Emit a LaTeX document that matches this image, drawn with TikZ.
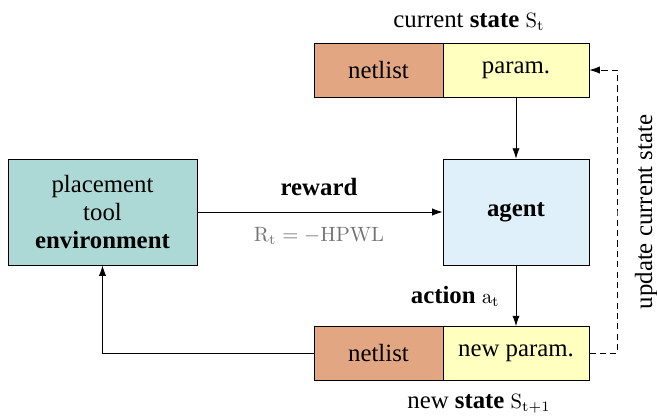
\documentclass[tikz,border=0pt]{standalone}
\usepackage[no-math]{fontspec}
\setmainfont{LiberationSerif}[Extension=.ttf, UprightFont=*-Regular, BoldFont=*-Bold, ItalicFont=*-Italic, BoldItalicFont=*-BoldItalic]
\usetikzlibrary{arrows.meta}

\definecolor{netcol}{RGB}{227,166,130}
\definecolor{parcol}{RGB}{255,255,192}
\definecolor{agentcol}{RGB}{224,240,250}
\definecolor{envcol}{RGB}{172,216,214}

\newcommand{\mth}[1]{{\fontsize{10}{12}\selectfont$\mathrm{#1}$}}

\tikzset{
  blk/.style={draw, inner sep=0pt, align=center},
  netbox/.style={blk, fill=netcol, minimum width=2.193cm, minimum height=0.918cm},
  parbox/.style={blk, fill=parcol, minimum width=2.482cm, minimum height=0.918cm},
  arr/.style={-{Latex[length=5pt,width=3.5pt]}},
}

\begin{document}
\begin{tikzpicture}[x=0.017cm, y=-0.017cm, font=\fontsize{12}{13.5}\selectfont]
  \useasboundingbox (0,0) rectangle (657,417);

  % current state
  \node[netbox] (tnet) at (378.5,70) {netlist};
  \node[parbox] (tpar) at (516,70) {param.};
  \node[anchor=base] (tlab) at (469,27) {current \textbf{state} \mth{S_t}};

  % agent and environment
  \node[blk, fill=agentcol, minimum width=2.482cm, minimum height=1.802cm] (agent) at (516,212) {\textbf{agent}};
  \node[blk, fill=envcol, minimum width=3.213cm, minimum height=1.802cm] (env) at (102.5,212) {placement\\tool\\\textbf{environment}};

  % new state
  \node[netbox] (bnet) at (378.5,353.5) {netlist};
  \node[parbox] (bpar) at (516,353.5) {new param.};
  \node[anchor=base] (blab) at (479,408) {new \textbf{state} \mth{S_{t+1}}};

  \draw[arr] (tpar) -- (agent);
  \draw[arr] (env) -- (agent);
  \node[anchor=base] (rew) at (319,195) {\textbf{reward}};
  \node[anchor=base, text=black!55] (rval) at (319,241) {\mth{R_t = -HPWL}};
  \draw[arr] (agent) -- (bpar);
  \node[anchor=base east] (act) at (507,303) {\textbf{action} \mth{a_t}};
  \draw[arr] (bnet.west) -| (env.south);

  \coordinate (upd) at (617,212);
  \draw[arr, dash pattern=on 3pt off 2pt] (bpar.east) -| (upd) |- (tpar.east);
  \node[rotate=90, anchor=base] (ulab) at (652,212) {update current state};
\end{tikzpicture}
\end{document}
